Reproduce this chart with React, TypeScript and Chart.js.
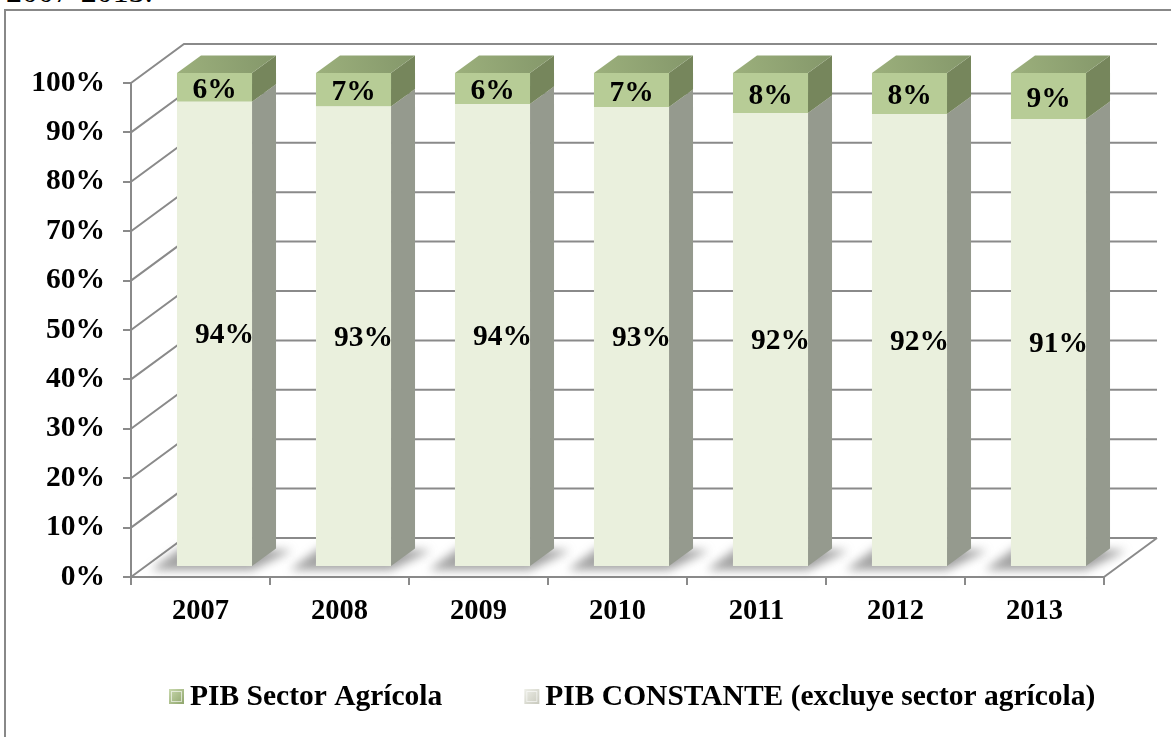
import React, { useEffect, useRef } from "react";
import { Chart, registerables } from "chart.js";

Chart.register(...registerables);

const categories = ["2007", "2008", "2009", "2010", "2011", "2012", "2013"];
const pibConstante = [94.2, 93.2, 93.7, 93.1, 91.9, 91.7, 90.7];
const pibAgricola = [5.8, 6.8, 6.3, 6.9, 8.1, 8.3, 9.3];
const seriesNames = ["PIB CONSTANTE (excluye sector agrícola)", "PIB Sector Agrícola"];
const titleText = "2007-2013.";

const FONT = '"Liberation Serif", "Times New Roman", serif';
const LIGHT_FRONT = "#EAF0DD";
const LIGHT_SIDE = "#959A8E";
const GREEN_FRONT = "#B7CC96";
const GREEN_SIDE = "#76865C";
const GRID = "#8A8A8A";

// 3D geometry (pixels)
const DX = 53, DY = -39; // full depth
const FX = 14, FY = -10; // bar front plane
const BX = 24, BY = -17.5; // bar depth

const threeD = {
  id: "threeD",
  beforeDatasetsDraw(chart: any) {
    const { ctx, chartArea, scales } = chart;
    const ys = scales.y;
    const { left, right, bottom } = chartArea;
    ctx.save();
    ctx.strokeStyle = GRID;
    ctx.lineWidth = 2;
    for (let v = 0; v <= 100; v += 10) {
      const yf = ys.getPixelForValue(v);
      ctx.beginPath();
      ctx.moveTo(left, yf);
      ctx.lineTo(left + DX, yf + DY);
      ctx.lineTo(right + DX, yf + DY);
      ctx.stroke();
    }
    ctx.beginPath();
    ctx.moveTo(right, bottom);
    ctx.lineTo(right + DX, bottom + DY);
    ctx.stroke();

    // floor shadows
    const m0 = chart.getDatasetMeta(0);
    ctx.filter = "blur(5px)";
    ctx.fillStyle = "rgba(100,100,100,0.6)";
    m0.data.forEach((el: any) => {
      const w = el.width;
      const x0 = el.x + FX - w / 2;
      const x1 = el.x + FX + w / 2;
      const yb = el.base + FY;
      ctx.beginPath();
      ctx.moveTo(x0 - 26, yb + 4);
      ctx.lineTo(x1, yb + 4);
      ctx.lineTo(x1 + BX + 16, yb + BY + 2);
      ctx.lineTo(x0 + 6, yb + BY - 2);
      ctx.closePath();
      ctx.fill();
    });
    ctx.filter = "none";

    // side & top faces
    chart.data.datasets.forEach((ds: any, di: number) => {
      const meta = chart.getDatasetMeta(di);
      meta.data.forEach((el: any) => {
        const w = el.width;
        const x0 = el.x + FX - w / 2;
        const x1 = el.x + FX + w / 2;
        const yt = el.y + FY;
        const yb = el.base + FY;
        ctx.fillStyle = di === 0 ? LIGHT_SIDE : GREEN_SIDE;
        ctx.beginPath();
        ctx.moveTo(x1, yt);
        ctx.lineTo(x1 + BX, yt + BY);
        ctx.lineTo(x1 + BX, yb + BY);
        ctx.lineTo(x1, yb);
        ctx.closePath();
        ctx.fill();
        if (di === chart.data.datasets.length - 1) {
          const g = ctx.createLinearGradient(x0, yt, x1 + BX, yt + BY);
          g.addColorStop(0, "#9CB07C");
          g.addColorStop(1, "#84976A");
          ctx.fillStyle = g;
          ctx.beginPath();
          ctx.moveTo(x0, yt);
          ctx.lineTo(x1, yt);
          ctx.lineTo(x1 + BX, yt + BY);
          ctx.lineTo(x0 + BX, yt + BY);
          ctx.closePath();
          ctx.fill();
        }
      });
    });
    ctx.restore();
    ctx.save();
    ctx.translate(FX, FY);
  },
  afterDatasetsDraw(chart: any) {
    const { ctx } = chart;
    ctx.restore();
    ctx.save();
    ctx.font = `bold 29.5px ${FONT}`;
    ctx.fillStyle = "#000";
    ctx.textAlign = "center";
    ctx.textBaseline = "middle";
    chart.data.datasets.forEach((ds: any, di: number) => {
      const meta = chart.getDatasetMeta(di);
      meta.data.forEach((el: any, i: number) => {
        const v = ds.data[i];
        const cy = (el.y + el.base) / 2 + FY + (di === 0 ? 2 : 3);
        const cx = el.x + FX + (di === 0 ? 10 : 0);
        ctx.fillText(Math.round(v) + "%", cx, cy);
      });
    });
    ctx.restore();
  },
  afterDraw(chart: any) {
    const { ctx } = chart;
    ctx.save();
    ctx.font = `bold 29.5px ${FONT}`;
    ctx.textBaseline = "alphabetic";
    ctx.textAlign = "left";
    const items = [
      { label: chart.data.datasets[1].label, a: "#C9D9AE", b: "#8FA56C" },
      { label: chart.data.datasets[0].label, a: "#EEEFE8", b: "#C8C9BD" },
    ];
    let x = 169;
    const base = 705;
    items.forEach((it) => {
      const g = ctx.createLinearGradient(x, base - 16, x + 15, base - 1);
      g.addColorStop(0, it.a);
      g.addColorStop(1, it.b);
      ctx.fillStyle = g;
      ctx.fillRect(x, base - 16, 15, 15);
      ctx.strokeStyle = "rgba(255,255,255,0.6)";
      ctx.lineWidth = 1;
      ctx.strokeRect(x + 2.5, base - 13.5, 10, 10);
      ctx.fillStyle = "#000";
      ctx.fillText(it.label, x + 21, base);
      x += 21 + ctx.measureText(it.label).width + 82;
    });
    ctx.restore();
  },
};

export default function App() {
  const ref = useRef<HTMLCanvasElement>(null);
  useEffect(() => {
    if (!ref.current) return;
    const chart = new Chart(ref.current, {
      type: "bar",
      data: {
        labels: categories,
        datasets: [
          {
            label: seriesNames[0],
            data: pibConstante,
            backgroundColor: LIGHT_FRONT,
            borderWidth: 0,
            barPercentage: 0.9,
            categoryPercentage: 0.6,
            clip: false as any,
          },
          {
            label: seriesNames[1],
            data: pibAgricola,
            backgroundColor: GREEN_FRONT,
            borderWidth: 0,
            barPercentage: 0.9,
            categoryPercentage: 0.6,
            clip: false as any,
          },
        ],
      },
      options: {
        responsive: false,
        animation: false,
        devicePixelRatio: 1,
        layout: { padding: { top: 83, right: 67, left: 0, bottom: 0 } },
        plugins: {
          legend: { display: false },
          tooltip: { enabled: false },
          title: { display: false },
        },
        scales: {
          x: {
            stacked: true,
            grid: {
              offset: true,
              drawOnChartArea: false,
              drawTicks: true,
              tickLength: 8,
              color: GRID,
              lineWidth: 2,
            },
            border: { display: true, color: GRID, width: 2 },
            ticks: {
              color: "#000",
              padding: 10,
              font: { family: FONT, size: 28.5, weight: "bold" },
              maxRotation: 0,
            },
            afterFit: (s: any) => {
              s.height = 160;
            },
          },
          y: {
            stacked: true,
            min: 0,
            max: 100,
            grid: {
              drawOnChartArea: false,
              drawTicks: true,
              tickLength: 8,
              color: GRID,
              lineWidth: 2,
            },
            border: { display: true, color: GRID, width: 2 },
            ticks: {
              stepSize: 10,
              color: "#000",
              padding: 18,
              font: { family: FONT, size: 29.5, weight: "bold" },
              callback: (v: any) => v + "%",
            },
            afterFit: (s: any) => {
              s.width = 131;
            },
          },
        },
      },
      plugins: [threeD],
    });
    return () => chart.destroy();
  }, []);

  return (
    <div
      style={{
        position: "fixed",
        left: 0,
        top: 0,
        width: 1171,
        height: 737,
        overflow: "hidden",
        background: "#fff",
      }}
    >
      <div
        style={{
          position: "absolute",
          left: 6,
          top: -25,
          fontFamily: FONT,
          fontSize: 32,
          lineHeight: "32px",
          whiteSpace: "nowrap",
          color: "#000",
        }}
      >
        {titleText}
      </div>
      <div
        style={{
          position: "absolute",
          left: 4,
          top: 9,
          width: 1200,
          height: 800,
          border: "2px solid #888",
          boxSizing: "border-box",
        }}
      />
      <canvas
        ref={ref}
        width={1171}
        height={737}
        style={{ position: "absolute", left: 0, top: 0, width: 1171, height: 737 }}
      />
    </div>
  );
}
